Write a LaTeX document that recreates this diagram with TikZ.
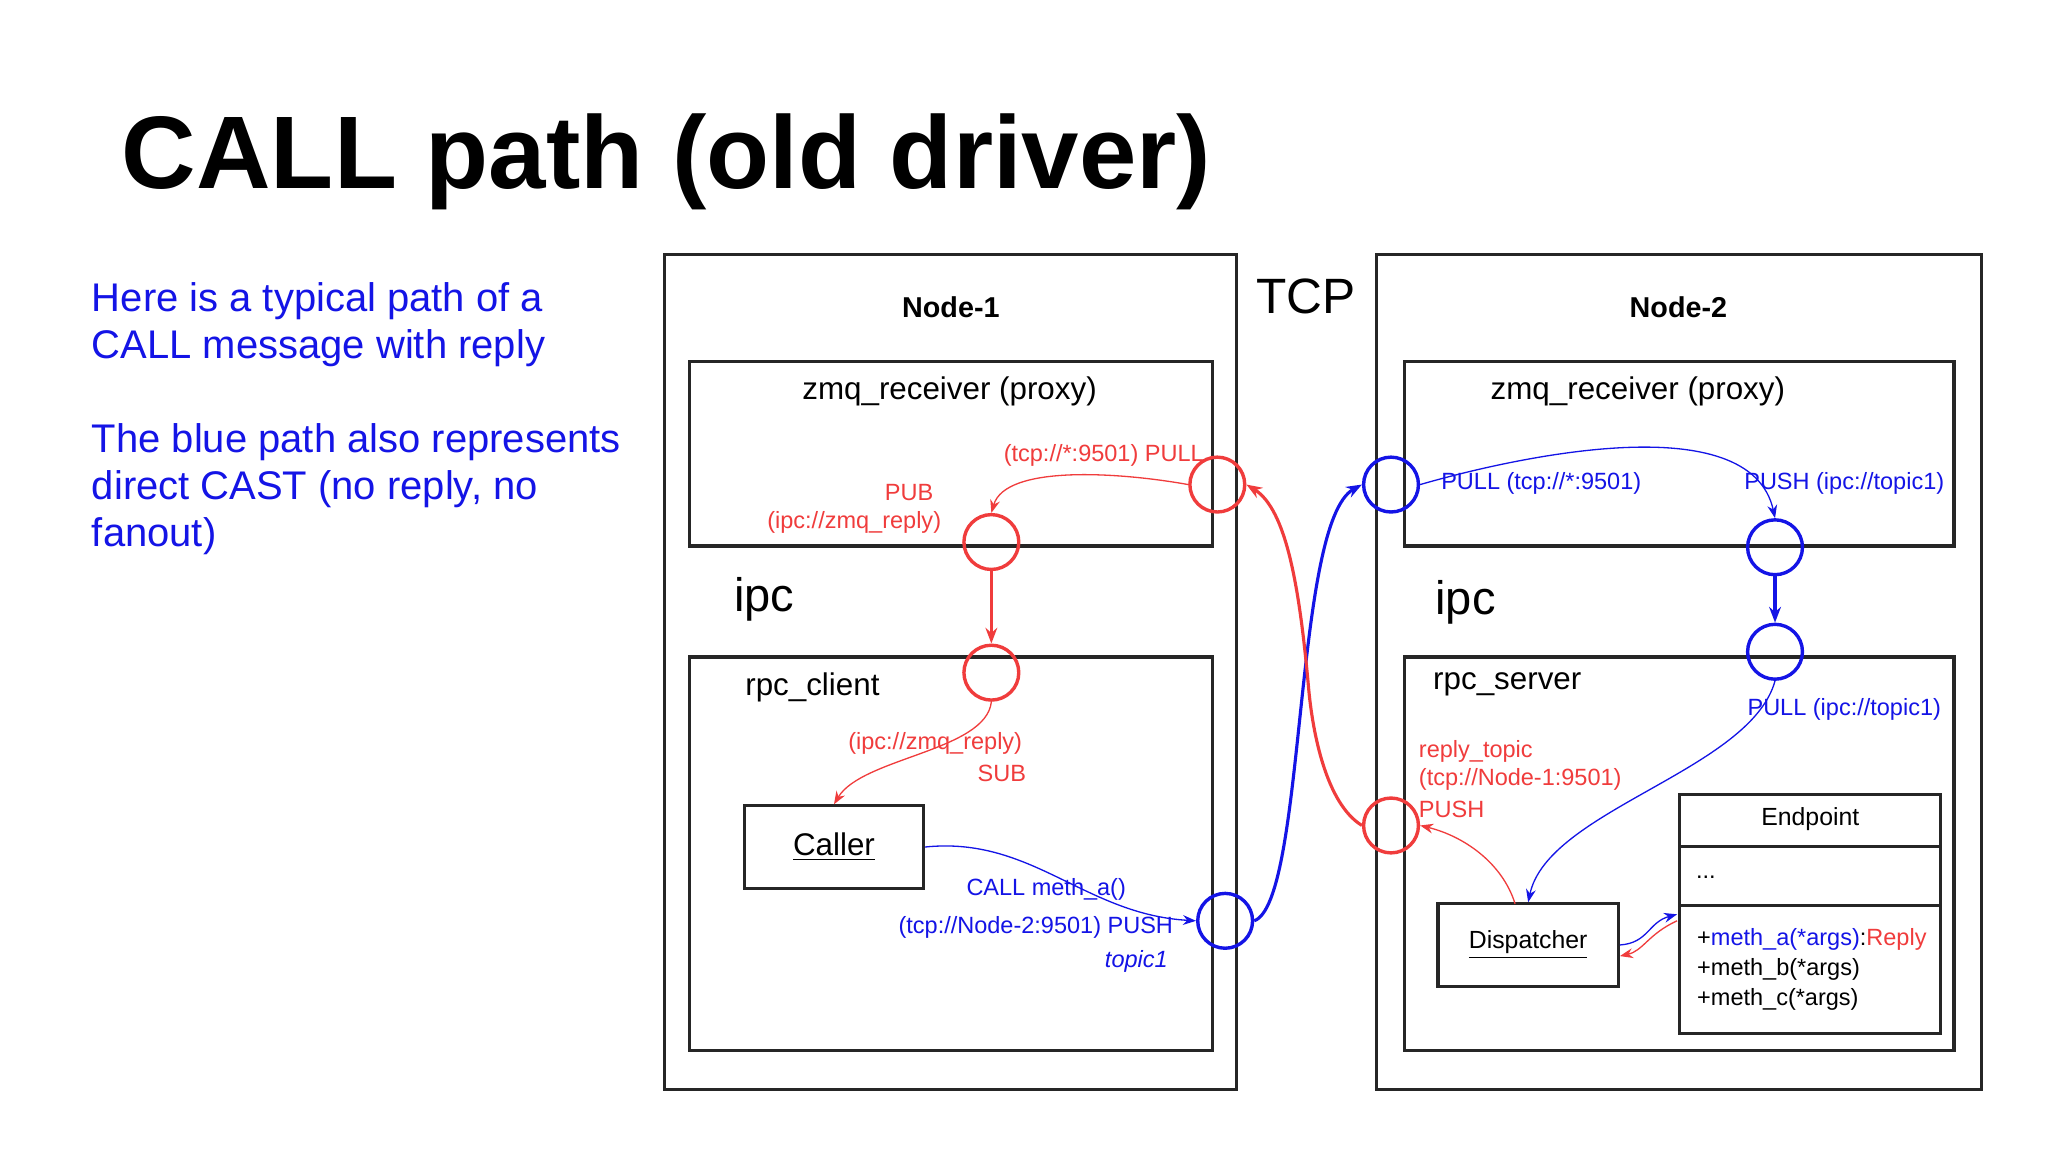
\documentclass[tikz,border=0pt]{standalone}
\usepackage{fontspec}
\setmainfont{Liberation Sans}
\usetikzlibrary{arrows.meta}
\definecolor{rd}{RGB}{240,60,60}
\definecolor{bl}{RGB}{20,20,230}
\begin{document}
\begin{tikzpicture}[x=0.5pt,y=-0.5pt,
 box/.style={draw=black!85,line width=1.2pt},
 rc/.style={circle,draw=rd,line width=1.3pt,minimum size=21pt,inner sep=0pt},
 bc/.style={circle,draw=bl,line width=1.3pt,minimum size=21pt,inner sep=0pt},
 rl/.style={text=rd,font=\fontsize{9}{10}\selectfont,inner sep=0pt},
 bll/.style={text=bl,font=\fontsize{9}{10}\selectfont,inner sep=0pt},
 lab/.style={font=\fontsize{12}{14}\selectfont,inner sep=0pt},
 thinr/.style={draw=rd,line width=0.5pt,-{Stealth[length=5pt]}},
 thinb/.style={draw=bl,line width=0.5pt,-{Stealth[length=5pt]}},
 thickr/.style={draw=rd,line width=1.2pt,-{Stealth[length=6pt]}},
 thickb/.style={draw=bl,line width=1.2pt,-{Stealth[length=6pt]}}]
\useasboundingbox[fill=white] (0,0) rectangle (1568,882);
\node[anchor=west,font=\bfseries\fontsize{39.5}{44}\selectfont,inner sep=0pt] (title) at (93,124) {CALL path (old driver)};
\node[anchor=north west,align=left,text=bl,font=\fontsize{15.3}{18}\selectfont,inner sep=0pt] (desc) at (70,216) {Here is a typical path of a\\CALL message with reply\\[18pt]The blue path also represents\\direct CAST (no reply, no\\fanout)};
% boxes
\draw[box] (509,195) rectangle (947,834);
\draw[box] (1054,195) rectangle (1517,834);
\draw[box] (528,277) rectangle (928,418);
\draw[box] (528,503) rectangle (928,804);
\draw[box] (1075,277) rectangle (1496,418);
\draw[box] (1075,503) rectangle (1496,804);
\node[draw=black!85,line width=1.2pt,minimum width=68.5pt,minimum height=31.5pt,font=\fontsize{12}{14}\selectfont] (caller) at (638.5,648.5) {\underline{Caller}};
\node[draw=black!85,line width=1.2pt,minimum width=69pt,minimum height=31.5pt,font=\fontsize{9.5}{11}\selectfont] (disp) at (1170,723.5) {\underline{Dispatcher}};
\draw[box] (1286,608) rectangle (1486,791);
\draw[box] (1286,648) -- (1486,648) (1286,693) -- (1486,693);
% labels
\node[font=\bfseries\fontsize{11}{13}\selectfont] (n1) at (728,235) {Node-1};
\node[font=\bfseries\fontsize{11}{13}\selectfont] (n2) at (1285,235) {Node-2};
\node[font=\fontsize{19}{22}\selectfont] (tcp) at (1000,227) {TCP};
\node[font=\fontsize{18}{20}\selectfont] (ipc1) at (585,459) {ipc};
\node[font=\fontsize{18}{20}\selectfont] (ipc2) at (1122,461) {ipc};
\node[lab] (zr1) at (727,300) {zmq\_receiver (proxy)};
\node[lab] (zr2) at (1254,300) {zmq\_receiver (proxy)};
\node[lab] (rpcc) at (622,526) {rpc\_client};
\node[lab] (rpcs) at (1154,524) {rpc\_server};
\node[font=\fontsize{9.5}{11}\selectfont] (ep) at (1386,627) {Endpoint};
\node[font=\fontsize{9}{10}\selectfont] (dots) at (1306,672) {...};
\node[anchor=west,font=\fontsize{9}{10}\selectfont,inner sep=0pt] (m1) at (1299,719) {+\textcolor{bl}{meth\_a(*args)}:\textcolor{rd}{Reply}};
\node[anchor=west,font=\fontsize{9}{10}\selectfont,inner sep=0pt] (m2) at (1299,742) {+meth\_b(*args)};
\node[anchor=west,font=\fontsize{9}{10}\selectfont,inner sep=0pt] (m3) at (1299,765) {+meth\_c(*args)};
% circles
\node[rc] (c1) at (932,371) {};
\node[rc] (c2) at (759,415) {};
\node[rc] (c3) at (759,515) {};
\node[bc] (c4) at (938,705) {};
\node[bc] (c5) at (1065,371) {};
\node[bc] (c6) at (1359,419) {};
\node[bc] (c7) at (1359,499) {};
\node[rc] (c8) at (1065,632) {};
% port texts
\node[rl,anchor=east] (t1) at (922,349) {(tcp://*:9501) PULL};
\node[rl] (t2) at (696,377) {PUB};
\node[rl] (t3) at (654,400) {(ipc://zmq\_reply)};
\node[rl] (t4) at (716,569) {(ipc://zmq\_reply)};
\node[rl] (t5) at (767,592) {SUB};
\node[bll] (t6) at (801,681) {CALL meth\_a()};
\node[bll] (t7) at (793,710) {(tcp://Node-2:9501) PUSH};
\node[bll,font=\itshape\fontsize{9}{10}\selectfont] (t8) at (870,736) {topic1};
\node[bll] (t9) at (1180,370) {PULL (tcp://*:9501)};
\node[bll] (t10) at (1412,370) {PUSH (ipc://topic1)};
\node[bll] (t11) at (1412,543) {PULL (ipc://topic1)};
\node[rl,anchor=west] (t12) at (1086,575) {reply\_topic};
\node[rl,anchor=west] (t13) at (1086,597) {(tcp://Node-1:9501)};
\node[rl,anchor=west] (t14) at (1086,620) {PUSH};
% connectors
\draw[thinr] (c1.west) .. controls (860,362) and (770,355) .. (c2.north);
\draw[thickr] (c2) -- (c3);
\draw[thinr] (c3.south) .. controls (755,575) and (660,580) .. (caller.north);
\draw[thinb] (caller.east) .. controls (790,640) and (830,700) .. (c4.west);
\draw[thickb] (c4.east) .. controls (1000,690) and (990,400) .. (c5.west);
\draw[thinb] (c5.east) .. controls (1160,350) and (1340,310) .. (c6.north);
\draw[thickb] (c6) -- (c7);
\draw[thinb] (c7.south) .. controls (1340,590) and (1185,620) .. (disp.north);
\draw[thinr] (1160,692) .. controls (1150,660) and (1120,640) .. (c8.east);
\draw[thickr] (c8.west) .. controls (1015,615) and (1005,560) .. (1002,528) .. controls (995,450) and (985,390) .. (c1.east);
\draw[thinb] (disp.east) .. controls (1262,722) and (1262,706) .. (1284,700);
\draw[thinr] (1284,705) .. controls (1262,715) and (1258,728) .. (disp.east |- 0,732);
\end{tikzpicture}
\end{document}
